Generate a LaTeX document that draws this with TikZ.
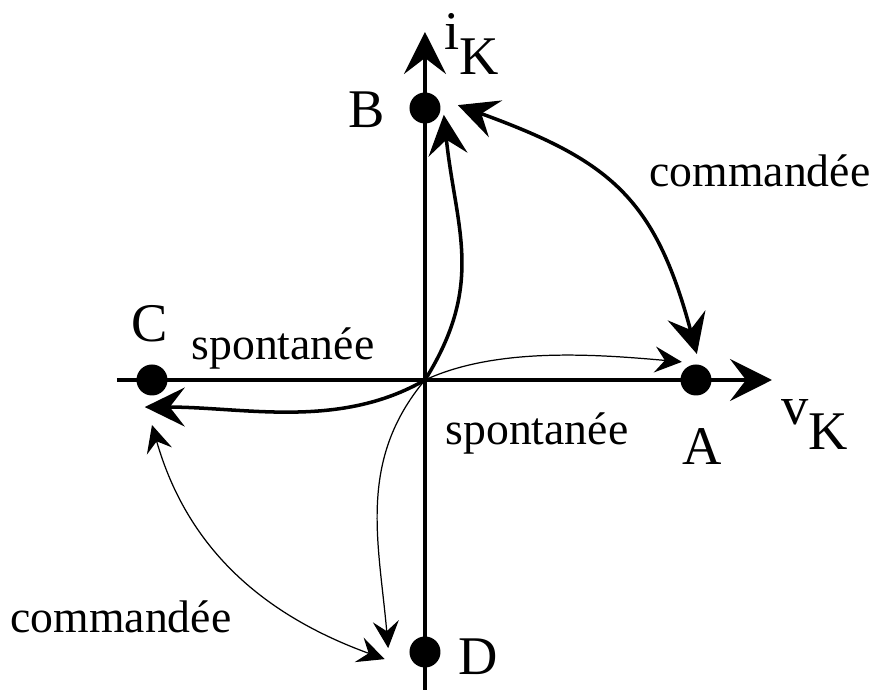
\documentclass[tikz,border=0pt]{standalone}
\usepackage{fontspec}
\setmainfont{Liberation Serif}
\usetikzlibrary{arrows.meta, calc}

\begin{document}
\begin{tikzpicture}[
    dot/.style={circle, fill, inner sep=0pt, minimum size=0.31cm},
    axis/.style={line width=1.1pt, -{Stealth[length=0.42cm, width=0.42cm, inset=0.16cm]}},
    thickarr/.style={line width=1pt},
    thinarr/.style={line width=0.35pt},
    bigtip/.tip={Stealth[length=0.40cm, width=0.39cm, inset=0.15cm]},
    smalltip/.tip={Stealth[length=0.27cm, width=0.26cm, inset=0.10cm]},
    word/.style={font=\fontsize{13}{15}\selectfont, inner sep=0pt, anchor=base},
    letter/.style={font=\fontsize{15.5}{18}\selectfont, inner sep=0pt, anchor=base}]
      \useasboundingbox (-4.25,-3.10) rectangle (4.52,3.80);

      % axes
      \coordinate (xl) at (-3.08,0);
      \coordinate (xr) at (3.47,0);
      \coordinate (yb) at (0,-3.10);
      \coordinate (yt) at (0,3.48);
      \coordinate (O) at (0,0);
      \draw[axis] (xl) -- (xr);
      \draw[axis] (yb) -- (yt);
      \node[letter] (vK) at (3.90,-0.45) {v\raisebox{-0.45em}{K}};
      \node[letter] (iK) at (0.47,3.30) {i\raisebox{-0.45em}{K}};

      % states
      \node[dot] (A) at (2.71,0) {};
      \node[dot] (B) at (0,2.72) {};
      \node[dot] (C) at (-2.73,0) {};
      \node[dot] (D) at (0,-2.72) {};
      \node[letter] (labA) at (2.77,-0.85) {A};
      \node[letter] (labB) at (-0.58,2.52) {B};
      \node[letter] (labC) at (-2.75,0.38) {C};
      \node[letter] (labD) at (0.53,-2.95) {D};

      % arrow ends beside the states
      \coordinate (Bo) at ($(B)+(-20:0.20)$);
      \coordinate (Ba) at ($(B)+(5:0.33)$);
      \coordinate (Ab) at ($(A)+(88:0.26)$);
      \coordinate (Ao) at ($(A)+(128:0.23)$);
      \coordinate (Co) at ($(C)+(255:0.28)$);
      \coordinate (Cd) at ($(C)+(270:0.45)$);
      \coordinate (Dc) at ($(D)+(190:0.41)$);
      \coordinate (Do) at ($(D)+(174:0.37)$);

      \draw[thickarr, -{bigtip}] (O) to[out=58, in=-84, looseness=1.1] (Bo);
      \draw[thickarr, -{bigtip}] (O) to[out=210, in=0, looseness=0.9] (Co);
      \draw[thickarr, {bigtip}-{bigtip}] (Ba) to[out=-20, in=105, looseness=1.2] (Ab);
      \draw[thinarr, -{smalltip}] (O) to[out=25, in=175, looseness=0.8] (Ao);
      \draw[thinarr, -{smalltip}] (O) to[out=230, in=95] (Do);
      \draw[thinarr, {smalltip}-{smalltip}] (Cd) to[out=-74, in=160] (Dc);

      \node[word] (spC) at (-1.42,0.20) {spontanée};
      \node[word] (spA) at (1.12,-0.65) {spontanée};
      \node[word] (coAB) at (3.35,1.93) {commandée};
      \node[word] (coCD) at (-3.04,-2.53) {commandée};
    \end{tikzpicture}
\end{document}
